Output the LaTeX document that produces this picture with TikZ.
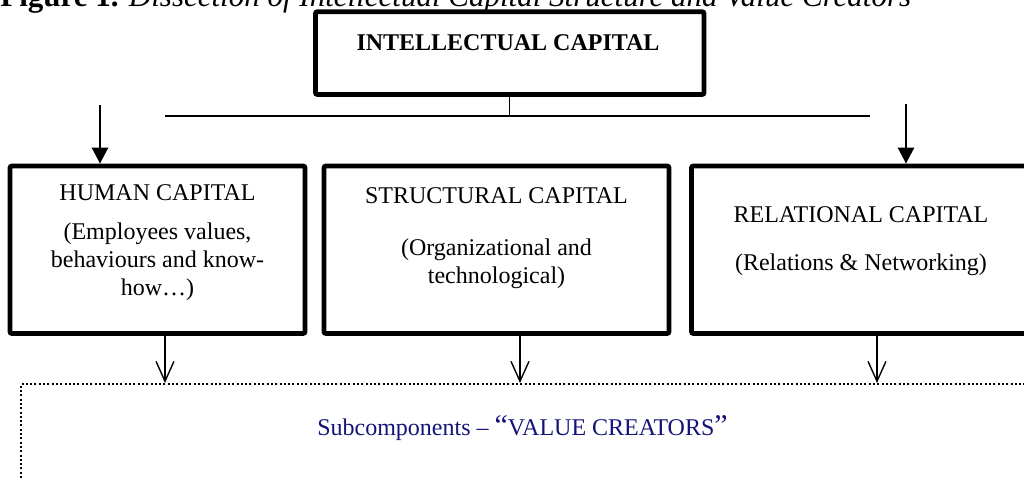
\documentclass[tikz,border=0pt]{standalone}
\usepackage{fontspec}
\setmainfont{Liberation Serif}
\usetikzlibrary{arrows.meta}
\definecolor{valblue}{RGB}{20,20,120}
\begin{document}
\begin{tikzpicture}
      [x=.5pt,y=-.5pt
      ,capbox/.style={draw,line width=2.4pt,rounded corners=1pt,inner sep=0pt}
      ,captxt/.style={align=center,inner sep=0pt,font=\fontsize{12}{13.8}\selectfont}
      ,lin/.style={line width=1.3pt}
      ,stub/.style={line width=.7pt}
      ,arr/.style={line width=1.3pt,-{Triangle[length=8pt,width=8pt]}}
      ,arrv/.style={line width=.7pt,-{Straight Barb[length=10pt,width=9pt]}}
      ,vcbox/.style={draw,line width=1pt,dash pattern=on 1pt off 1.15pt,inner sep=0pt}
      ]
  \useasboundingbox (0,0) rectangle (1024,479);
  % caption, cut off at the top of the page
  \node[anchor=base west,inner sep=0pt,font=\fontsize{15.5}{17}\selectfont] (title) at (0,6)
    {\textbf{Figure 1.} \textit{Dissection of Intellectual Capital Structure and Value Creators}};
  % boxes
  \node[capbox,minimum width=194.25pt,minimum height=41.4pt] (ic) at (509.75,53.1) {};
  \node[capbox,minimum width=147.5pt,minimum height=83.75pt] (hc) at (157.5,249.75) {};
  \node[capbox,minimum width=172.5pt,minimum height=83.75pt] (sc) at (496.5,249.75) {};
  \node[capbox,minimum width=169.5pt,minimum height=83.75pt] (rc) at (861,249.75) {};
  \node[vcbox,minimum width=509.5pt,minimum height=68pt] (vc) at (530.5,452) {};
  % texts (base = last line)
  \node[captxt,anchor=base,font=\fontsize{12}{13.8}\selectfont\bfseries] (icT) at (508,50) {INTELLECTUAL CAPITAL};
  \node[captxt,anchor=base] (hcT) at (157.5,295) {HUMAN CAPITAL\\[6pt](Employees values,\\behaviours and know-\\how…)};
  \node[captxt,anchor=base] (scT) at (496.5,283) {STRUCTURAL CAPITAL\\[12pt](Organizational and\\technological)};
  \node[captxt,anchor=base] (rcT) at (861,270) {RELATIONAL CAPITAL\\[10pt](Relations \& Networking)};
  \node[captxt,anchor=base,text=valblue] (vcT) at (522.5,435)
    {Subcomponents – {\fontsize{15}{15}\selectfont “}VALUE CREATORS{\fontsize{15}{15}\selectfont ”}};
  % connectors
  \coordinate (hl) at (165,116);
  \coordinate (hr) at (870,116);
  \coordinate (ha) at (100,105);
  \coordinate (ra) at (906,104);
  \draw[lin] (hl) -- (hr);
  \draw[stub] (ic.south) -- (ic.south |- hl);
  \draw[arr] (ha) -- (ha |- hc.north);
  \draw[arr] (ra) -- (ra |- rc.north);
  \foreach \b/\s in {hc/3.75,sc/11.75,rc/8}{
    \draw[arrv] ([xshift=\s pt]\b.south) -- ([xshift=\s pt]\b.south |- vc.north);
  }
\end{tikzpicture}
\end{document}
